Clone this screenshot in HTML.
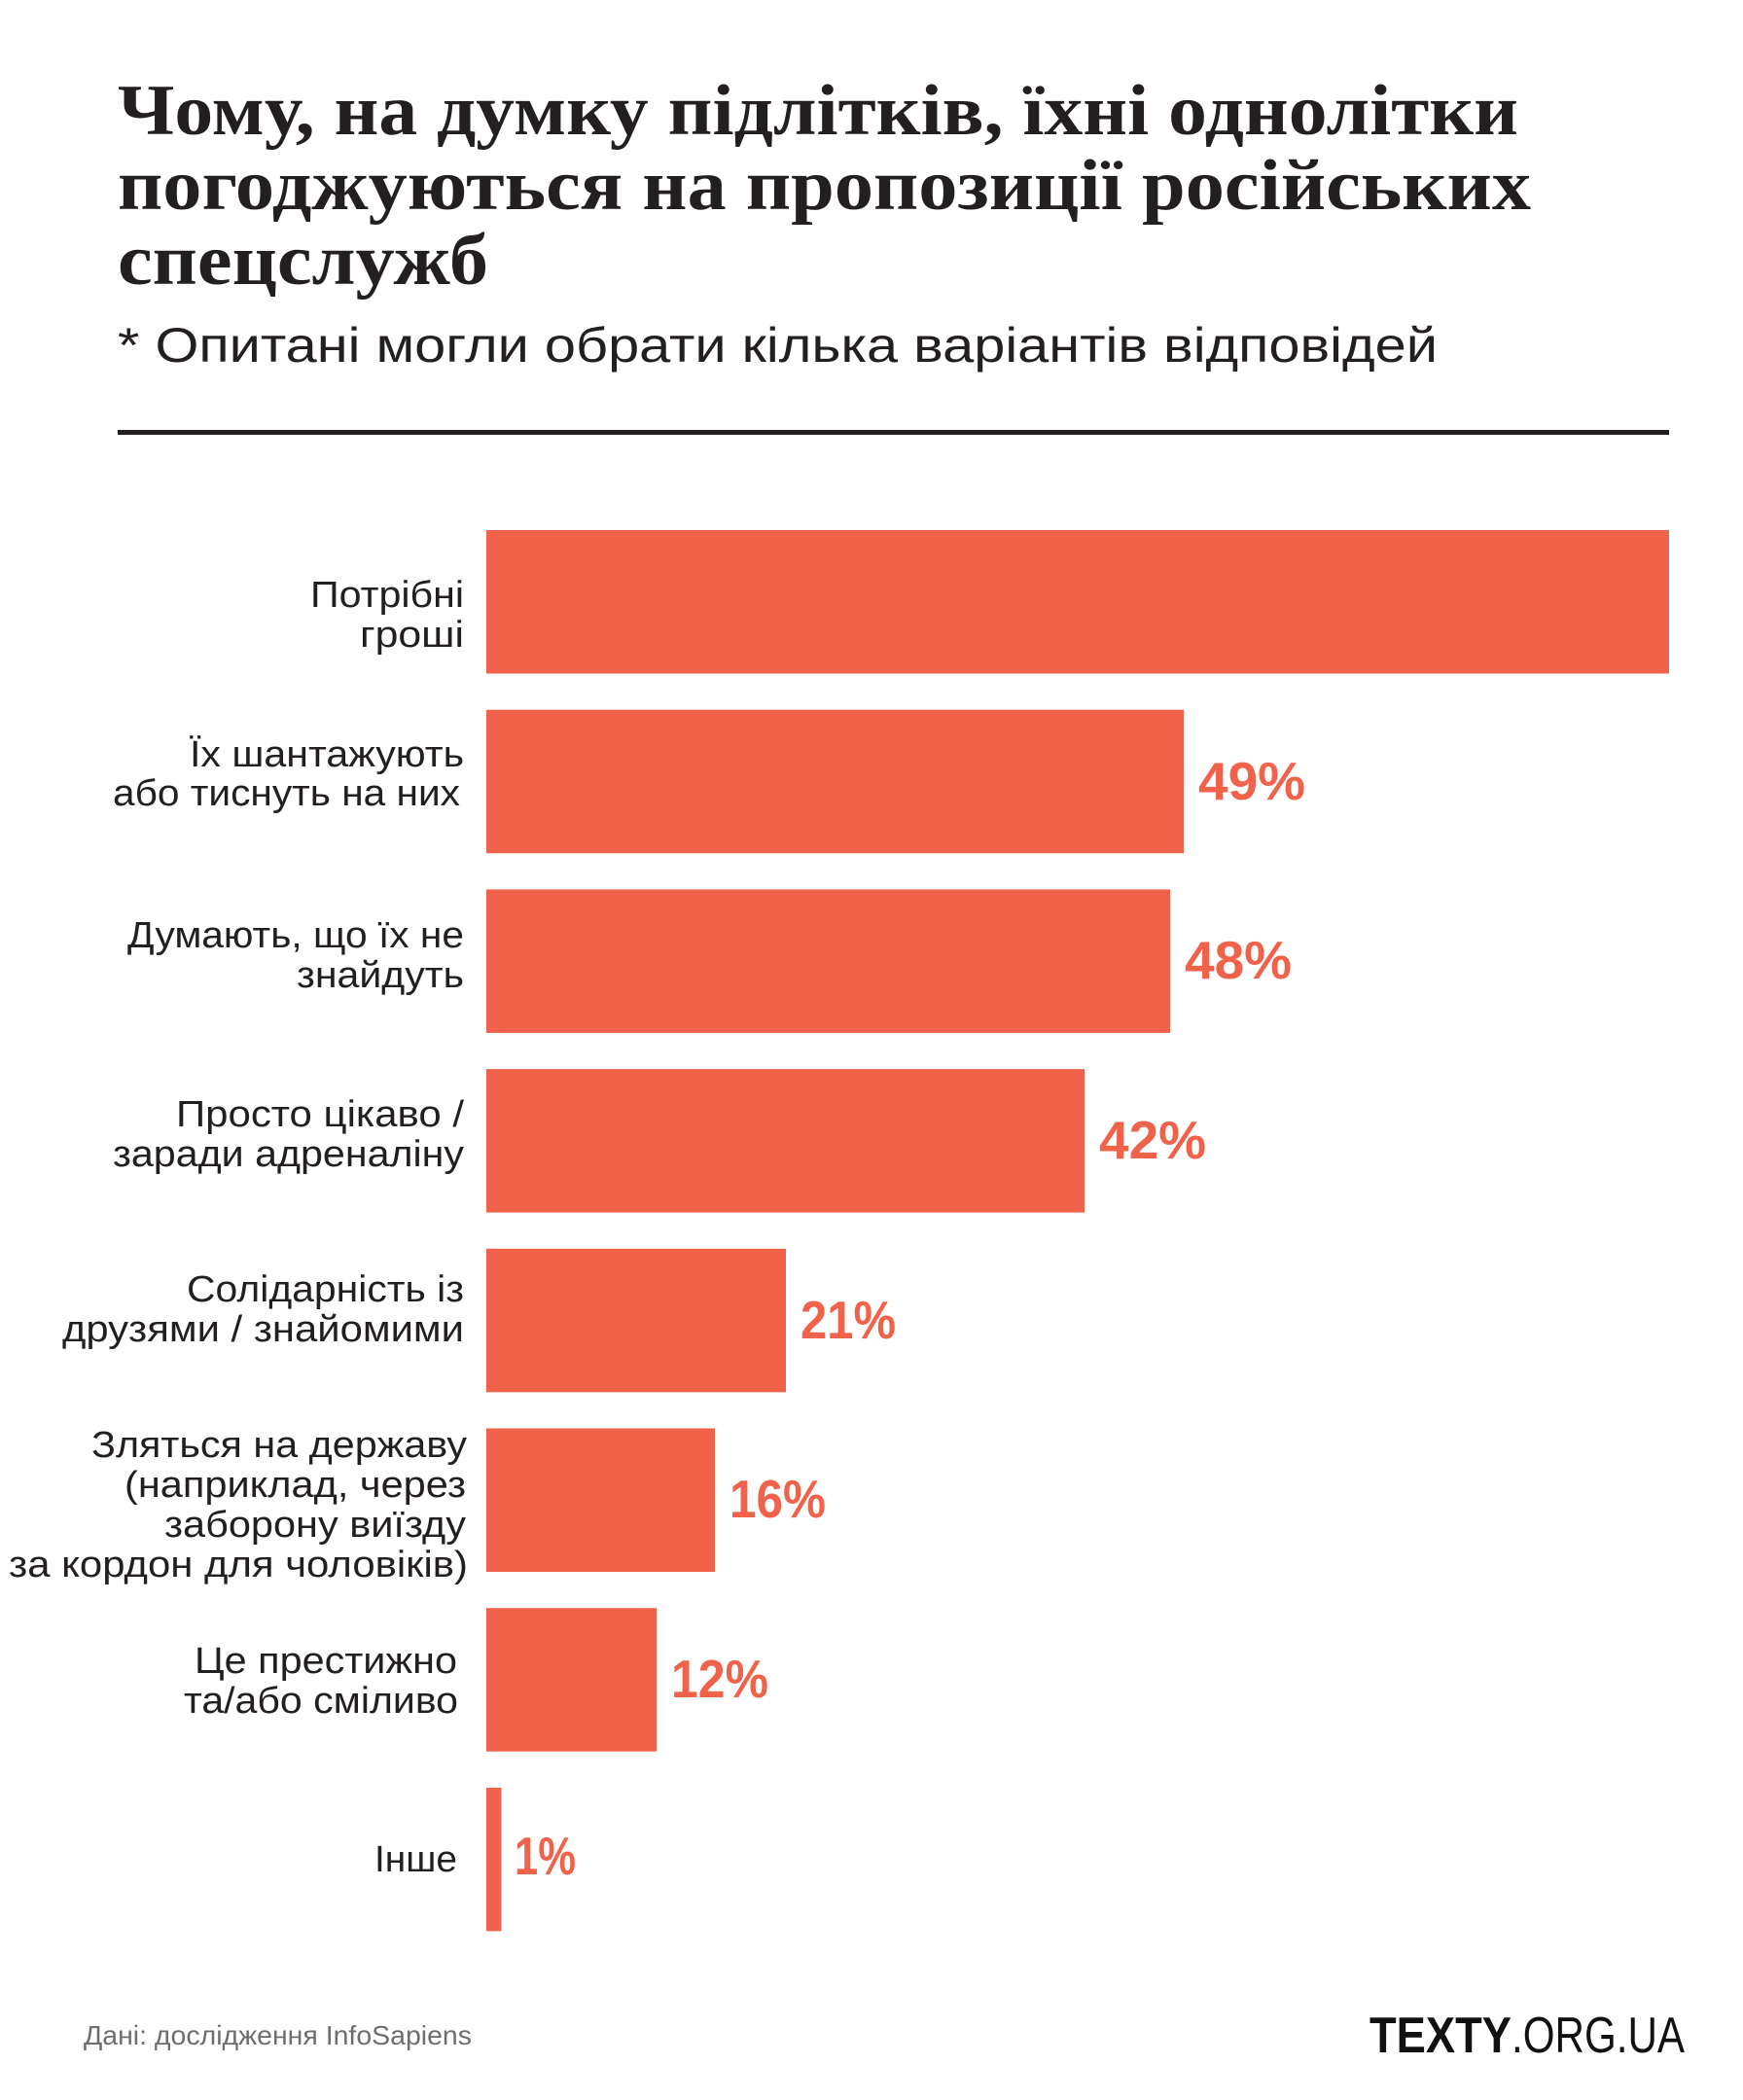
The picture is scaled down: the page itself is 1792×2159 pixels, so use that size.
<!DOCTYPE html>
<html lang="uk">
<head>
<meta charset="utf-8">
<style>
  html, body { margin: 0; padding: 0; background: #ffffff; }
  body { width: 1792px; height: 2159px; overflow: hidden; }
  svg { display: block; }
  .title { font-family: "Liberation Serif", "DejaVu Serif", serif; font-weight: bold; font-size: 74px; fill: #231f20; }
  .sub { font-family: "Liberation Sans", "DejaVu Sans", sans-serif; font-size: 50px; fill: #231f20; }
  .lab { font-family: "Liberation Sans", "DejaVu Sans", sans-serif; font-size: 38px; fill: #231f20; text-anchor: end; }
  .pct { font-family: "Liberation Sans", "DejaVu Sans", sans-serif; font-weight: bold; font-size: 55px; fill: #f0624a; }
  .src { font-family: "Liberation Sans", "DejaVu Sans", sans-serif; font-size: 28px; fill: #6d6e71; }
  .logo1 { font-family: "Liberation Sans", "DejaVu Sans", sans-serif; font-weight: bold; font-size: 52px; fill: #111; }
  .logo2 { font-family: "Liberation Sans", "DejaVu Sans", sans-serif; font-size: 52px; fill: #111; }
</style>
</head>
<body>
<svg width="1792" height="2159" viewBox="0 0 1792 2159" xmlns="http://www.w3.org/2000/svg">
  <rect x="0" y="0" width="1792" height="2159" fill="#ffffff"/>

  <!-- Title -->
  <text class="title" x="121" y="138" textLength="1440" lengthAdjust="spacingAndGlyphs">Чому, на думку підлітків, їхні однолітки</text>
  <text class="title" x="121" y="215" textLength="1453" lengthAdjust="spacingAndGlyphs">погоджуються на пропозиції російських</text>
  <text class="title" x="121" y="292" textLength="381" lengthAdjust="spacingAndGlyphs">спецслужб</text>

  <!-- Subtitle -->
  <text class="sub" x="121" y="372" textLength="1357" lengthAdjust="spacingAndGlyphs">* Опитані могли обрати кілька варіантів відповідей</text>

  <!-- Rule -->
  <rect x="121" y="442" width="1595" height="5" fill="#231f20"/>

  <!-- Bars -->
  <rect x="500" y="545" width="1216" height="147.5" fill="#f1624a"/>
  <rect x="500" y="729.7" width="717" height="147.5" fill="#f1624a"/>
  <rect x="500" y="914.4" width="703" height="147.5" fill="#f1624a"/>
  <rect x="500" y="1099.1" width="615" height="147.5" fill="#f1624a"/>
  <rect x="500" y="1283.8" width="308" height="147.5" fill="#f1624a"/>
  <rect x="500" y="1468.5" width="235" height="147.5" fill="#f1624a"/>
  <rect x="500" y="1653.2" width="175" height="147.5" fill="#f1624a"/>
  <rect x="500" y="1837.9" width="15.5" height="147.5" fill="#f1624a"/>

  <!-- Category labels -->
  <text class="lab" x="477" y="624" textLength="158" lengthAdjust="spacingAndGlyphs">Потрібні</text>
  <text class="lab" x="477" y="665" textLength="107" lengthAdjust="spacingAndGlyphs">гроші</text>

  <text class="lab" x="477" y="788" textLength="282" lengthAdjust="spacingAndGlyphs">Їх шантажують</text>
  <text class="lab" x="473" y="828" textLength="357" lengthAdjust="spacingAndGlyphs">або тиснуть на них</text>

  <text class="lab" x="477" y="974" textLength="346" lengthAdjust="spacingAndGlyphs">Думають, що їх не</text>
  <text class="lab" x="477" y="1015" textLength="172" lengthAdjust="spacingAndGlyphs">знайдуть</text>

  <text class="lab" x="477" y="1158" textLength="296" lengthAdjust="spacingAndGlyphs">Просто цікаво /</text>
  <text class="lab" x="477" y="1199" textLength="361" lengthAdjust="spacingAndGlyphs">заради адреналіну</text>

  <text class="lab" x="477" y="1338" textLength="285" lengthAdjust="spacingAndGlyphs">Солідарність із</text>
  <text class="lab" x="477" y="1379" textLength="413" lengthAdjust="spacingAndGlyphs">друзями / знайомими</text>

  <text class="lab" x="480" y="1498" textLength="386" lengthAdjust="spacingAndGlyphs">Зляться на державу</text>
  <text class="lab" x="479" y="1539" textLength="351" lengthAdjust="spacingAndGlyphs">(наприклад, через</text>
  <text class="lab" x="479" y="1580" textLength="310" lengthAdjust="spacingAndGlyphs">заборону виїзду</text>
  <text class="lab" x="481" y="1621" textLength="472" lengthAdjust="spacingAndGlyphs">за кордон для чоловіків)</text>

  <text class="lab" x="470" y="1720" textLength="270" lengthAdjust="spacingAndGlyphs">Це престижно</text>
  <text class="lab" x="471" y="1761" textLength="282" lengthAdjust="spacingAndGlyphs">та/або сміливо</text>

  <text class="lab" x="470" y="1924" textLength="85" lengthAdjust="spacingAndGlyphs">Інше</text>

  <!-- Value labels -->
  <text class="pct" x="1232" y="822">49%</text>
  <text class="pct" x="1218" y="1006">48%</text>
  <text class="pct" x="1130" y="1191">42%</text>
  <text class="pct" x="823" y="1376" textLength="98" lengthAdjust="spacingAndGlyphs">21%</text>
  <text class="pct" x="750" y="1560" textLength="99" lengthAdjust="spacingAndGlyphs">16%</text>
  <text class="pct" x="690" y="1745" textLength="100" lengthAdjust="spacingAndGlyphs">12%</text>
  <text class="pct" x="529" y="1927" textLength="63" lengthAdjust="spacingAndGlyphs">1%</text>

  <!-- Footer -->
  <text class="src" x="86" y="2102" textLength="399" lengthAdjust="spacingAndGlyphs">Дані: дослідження InfoSapiens</text>
  <text class="logo1" x="1408" y="2110" textLength="146" lengthAdjust="spacingAndGlyphs">TEXTY</text>
  <text class="logo2" x="1554" y="2110" textLength="178" lengthAdjust="spacingAndGlyphs">.ORG.UA</text>
</svg>
</body>
</html>
